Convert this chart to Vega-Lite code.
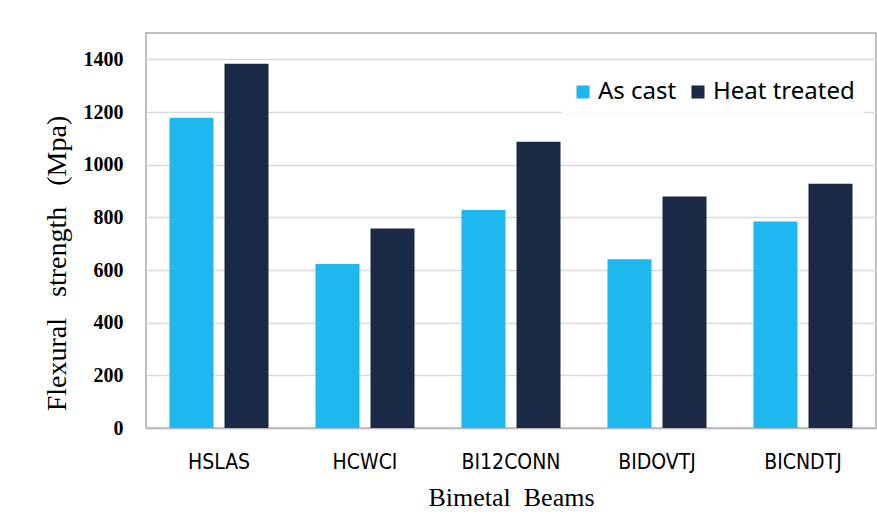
{
  "$schema": "https://vega.github.io/schema/vega-lite/v6.json",
  "width": 730,
  "height": 395,
  "autosize": "none",
  "padding": {"left": 146, "top": 33, "right": 1, "bottom": 95},
  "background": "white",
  "data": {
    "values": [
      {"beam": "HSLAS", "treatment": "As cast", "strength": 1178},
      {"beam": "HSLAS", "treatment": "Heat treated", "strength": 1383},
      {"beam": "HCWCI", "treatment": "As cast", "strength": 623},
      {"beam": "HCWCI", "treatment": "Heat treated", "strength": 758},
      {"beam": "BI12CONN", "treatment": "As cast", "strength": 828},
      {"beam": "BI12CONN", "treatment": "Heat treated", "strength": 1087},
      {"beam": "BIDOVTJ", "treatment": "As cast", "strength": 641},
      {"beam": "BIDOVTJ", "treatment": "Heat treated", "strength": 879},
      {"beam": "BICNDTJ", "treatment": "As cast", "strength": 784},
      {"beam": "BICNDTJ", "treatment": "Heat treated", "strength": 928}
    ]
  },
  "mark": {"type": "bar"},
  "encoding": {
    "x": {
      "field": "beam",
      "type": "nominal",
      "sort": ["HSLAS", "HCWCI", "BI12CONN", "BIDOVTJ", "BICNDTJ"],
      "scale": {"paddingInner": 0, "paddingOuter": 0},
      "axis": {
        "title": "Bimetal\u00a0\u00a0Beams",
        "titleFont": "Liberation Serif",
        "titleFontSize": 26,
        "titleFontWeight": "normal",
        "titleColor": "black",
        "titlePadding": 12,
        "labelFont": "DejaVu Sans Condensed",
        "labelFontSize": 21,
        "labelColor": "black",
        "labelAngle": 0,
        "labelPadding": 23,
        "ticks": false,
        "domainColor": "#bbbbbb",
        "domainWidth": 1.5
      }
    },
    "xOffset": {
      "field": "treatment",
      "type": "nominal",
      "scale": {"paddingInner": 0.2, "paddingOuter": 0.427}
    },
    "y": {
      "field": "strength",
      "type": "quantitative",
      "scale": {"domain": [0, 1500], "nice": false},
      "axis": {
        "values": [0, 200, 400, 600, 800, 1000, 1200, 1400],
        "format": "d",
        "title": "Flexural\u00a0\u00a0\u00a0strength\u00a0\u00a0\u00a0(Mpa)",
        "titleFont": "Liberation Serif",
        "titleFontSize": 28,
        "titleFontWeight": "normal",
        "titleColor": "black",
        "titlePadding": 12,
        "titleY": 230,
        "labelFont": "Liberation Serif",
        "labelFontSize": 20,
        "labelFontWeight": "bold",
        "labelColor": "black",
        "labelPadding": 23,
        "ticks": false,
        "domain": false,
        "grid": true,
        "gridColor": "#d9d9d9",
        "gridWidth": 1.5
      }
    },
    "color": {
      "field": "treatment",
      "type": "nominal",
      "scale": {"domain": ["As cast", "Heat treated"], "range": ["#1db9ee", "#1a2a46"]},
      "legend": {
        "title": null,
        "orient": "none",
        "legendX": 416,
        "legendY": 38,
        "direction": "horizontal",
        "fillColor": "white",
        "padding": 9,
        "symbolType": "square",
        "symbolSize": 170,
        "symbolStrokeWidth": 0,
        "labelFont": "Noto Sans",
        "labelFontSize": 24,
        "labelColor": "black",
        "labelOffset": 3,
        "columnPadding": 9
      }
    }
  },
  "config": {
    "view": {"stroke": "#aaaaaa", "strokeWidth": 1.5}
  }
}
